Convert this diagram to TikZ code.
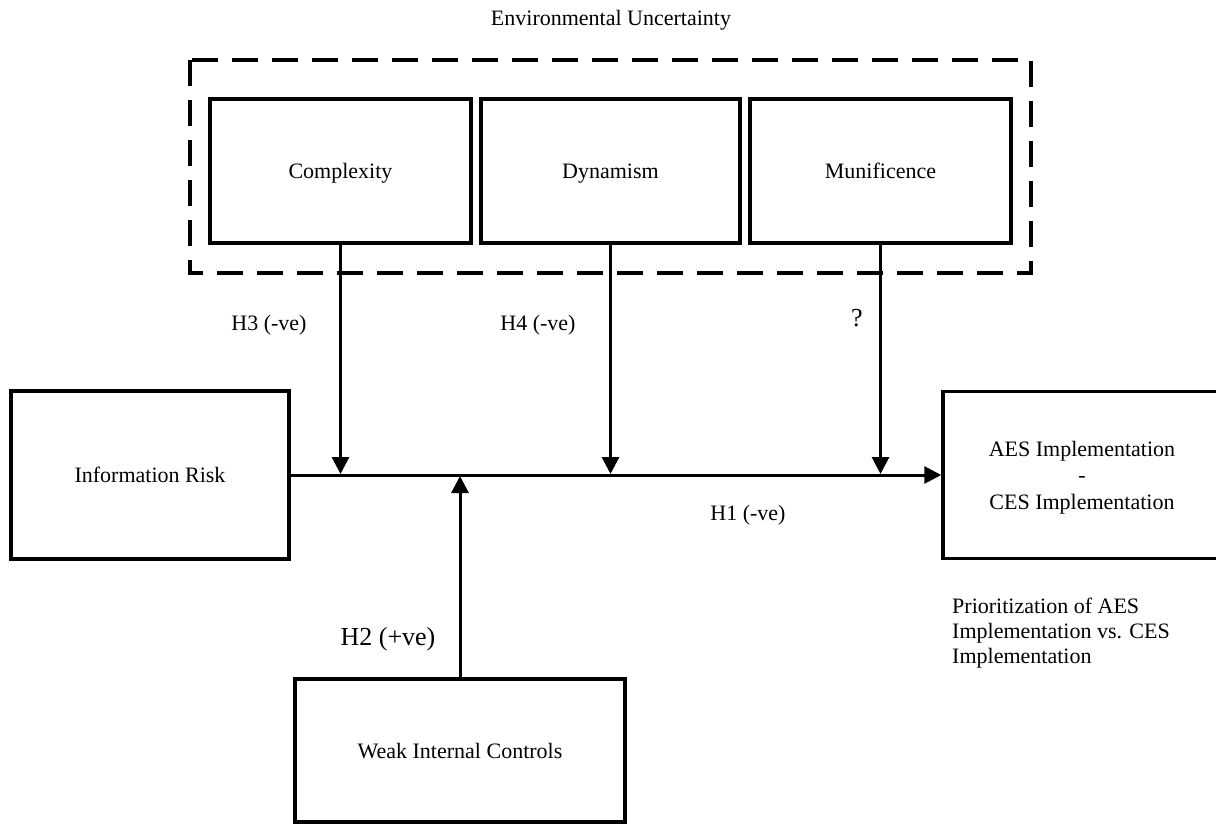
\documentclass[tikz,border=0pt]{standalone}
\usepackage{fontspec}
\setmainfont{Liberation Serif}
\usetikzlibrary{arrows.meta}
\begin{document}
\begin{tikzpicture}[x=1pt,y=-1pt,
  box/.style={draw, line width=3.5pt, inner sep=0pt, align=center, text depth=0pt,
    font=\fontsize{22}{26.5}\selectfont},
  lbl/.style={inner sep=0pt, font=\fontsize{22}{26}\selectfont},
  biglbl/.style={inner sep=0pt, font=\fontsize{26}{30}\selectfont},
  link/.style={line width=3pt, -{Triangle[length=17pt,width=17pt]}},
  group/.style={line width=3.5pt, dash pattern=on 26pt off 14pt}]
\useasboundingbox (0,0) rectangle (1216,825);

% environmental uncertainty group
\node[lbl] (envtitle) at (611,20) {Environmental Uncertainty};
\draw[group] (190,60) rectangle (1031,273);
\node[box, minimum width=261pt, minimum height=144pt] (cx) at (340.5,171) {Complexity};
\node[box, minimum width=259pt, minimum height=144pt] (dy) at (610.5,171) {Dynamism};
\node[box, minimum width=261pt, minimum height=144pt] (mu) at (880.5,171) {Munificence};

% main constructs
\node[box, minimum width=278pt, minimum height=168pt] (ir) at (150,475) {Information Risk};
\node[box, minimum width=278pt, minimum height=167pt] (aes) at (1082,475)
  {AES Implementation\\-\\CES Implementation};
\node[box, minimum width=330pt, minimum height=143pt] (wic) at (460,750.5) {Weak Internal Controls};

\node[lbl, anchor=west, align=left, font=\fontsize{22}{25}\selectfont] (prio) at (952,633)
  {Prioritization of AES\\Implementation vs. CES\\Implementation};

% main relationship
\draw[link] (ir.east) -- (aes.west);
\coordinate (mainy) at (0,474);

% moderating effects
\draw[link] (cx.south) -- (cx.south |- mainy);
\draw[link] (dy.south) -- (dy.south |- mainy);
\draw[link] (mu.south) -- (mu.south |- mainy);
\coordinate (mainlow) at (0,476);
\draw[link] (wic.north) -- (wic.north |- mainlow);

% hypothesis labels
\node[lbl] (h3) at (269,325) {H3 (-ve)};
\node[lbl] (h4) at (538,325) {H4 (-ve)};
\node[biglbl] (q) at (857,318) {?};
\node[lbl] (h1) at (748,515) {H1 (-ve)};
\node[biglbl] (h2) at (388,639) {H2 (+ve)};
\end{tikzpicture}
\end{document}
